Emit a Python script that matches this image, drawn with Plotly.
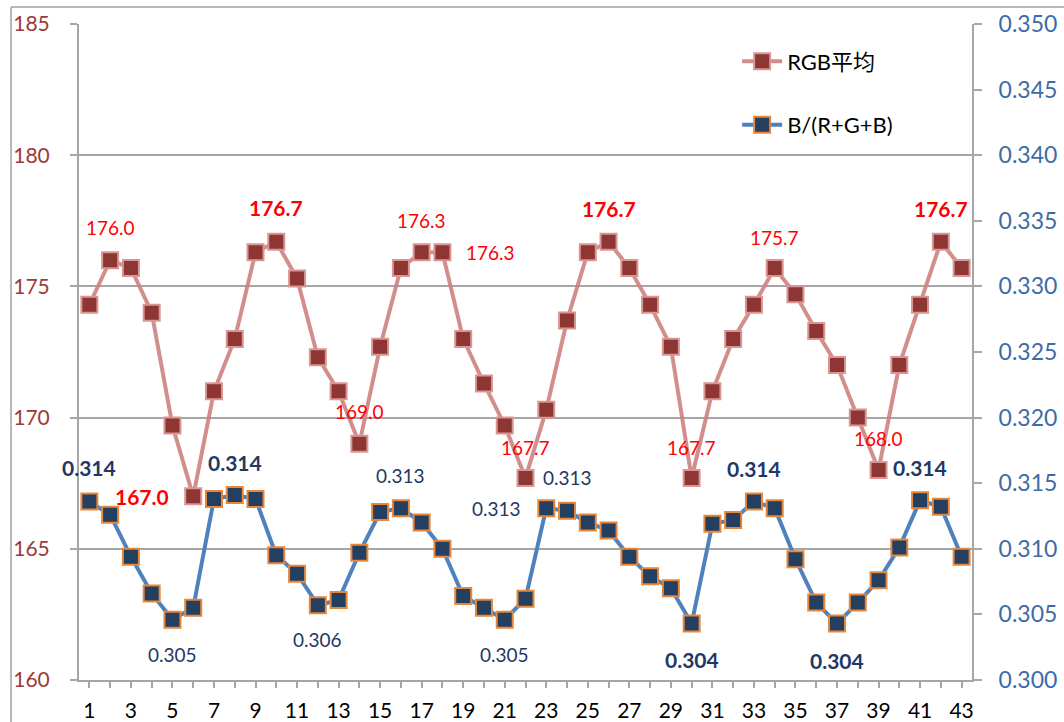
import plotly.graph_objects as go

# ---- data ----
frames = list(range(1, 44))
rgb_avg = [174.3, 176.0, 175.7, 174.0, 169.7, 167.0, 171.0, 173.0, 176.3, 176.7,
           175.3, 172.3, 171.0, 169.0, 172.7, 175.7, 176.3, 176.3, 173.0, 171.3,
           169.7, 167.7, 170.3, 173.7, 176.3, 176.7, 175.7, 174.3, 172.7, 167.7,
           171.0, 173.0, 174.3, 175.7, 174.7, 173.3, 172.0, 170.0, 168.0, 172.0,
           174.3, 176.7, 175.7]
b_ratio = [0.3136, 0.3126, 0.3094, 0.3066, 0.3046, 0.3055, 0.3138, 0.3141, 0.3138, 0.3095,
           0.3081, 0.3057, 0.3061, 0.3097, 0.3128, 0.3131, 0.3120, 0.3100, 0.3064, 0.3055,
           0.3046, 0.3062, 0.3131, 0.3129, 0.3120, 0.3114, 0.3094, 0.3079, 0.3070, 0.3043,
           0.3119, 0.3122, 0.3136, 0.3131, 0.3092, 0.3059, 0.3043, 0.3059, 0.3076, 0.3101,
           0.3137, 0.3132, 0.3094]
series_names = ["RGB平均", "B/(R+G+B)"]
left_ticks = [160, 165, 170, 175, 180, 185]
right_ticks = [0.300, 0.305, 0.310, 0.315, 0.320, 0.325, 0.330, 0.335, 0.340, 0.345, 0.350]
x_tick_labels = [str(v) for v in range(1, 44, 2)]

# labelled points (frame number, bold)
red_labels = [(2, False), (6, True), (10, True), (14, False), (17, False), (18, False),
              (22, False), (26, True), (30, False), (34, False), (39, False), (42, True)]
blue_labels = [(1, True), (5, False), (8, True), (12, False), (16, False), (21, False),
               (23, False), (24, False), (30, True), (33, True), (37, True), (41, True)]

# label offsets in pixels (style)
red_offsets = {2: (0, 33), 6: (-51, 0), 10: (0, 34), 14: (0, 32), 17: (0, 32), 18: (48, 0),
               22: (0, 30), 26: (0, 33), 30: (0, 30), 34: (0, 31), 39: (0, 32), 42: (0, 33)}
blue_offsets = {1: (0, 34), 5: (0, -35), 8: (0, 33), 12: (0, -34), 16: (0, 33), 21: (0, -35),
                23: (-50, 0), 24: (0, 33), 30: (0, -36), 33: (0, 33), 37: (0, -37), 41: (0, 33)}

FONT = "Lato, 'Noto Sans CJK SC', sans-serif"

fig = go.Figure()
fig.add_trace(go.Scatter(
    x=frames, y=rgb_avg, name=series_names[0], mode="lines+markers",
    line=dict(color="rgba(205,130,128,0.9)", width=4),
    marker=dict(symbol="square", size=16, color="#8E3634",
                line=dict(color="#D99694", width=2)),
    legendgroup="a", yaxis="y"))
fig.add_trace(go.Scatter(
    x=frames, y=b_ratio, name=series_names[1], mode="lines+markers",
    line=dict(color="#4F81BD", width=4),
    marker=dict(symbol="square", size=16, color="#243F60",
                line=dict(color="#E8873A", width=2)),
    legendgroup="b", yaxis="y2"))

annotations = []
for idx, bold in red_labels:
    v = rgb_avg[idx - 1]
    dx, dy = red_offsets[idx]
    annotations.append(dict(
        x=idx, y=v, xref="x", yref="y", text=("<b>%.1f</b>" if bold else "%.1f") % v,
        showarrow=False, xshift=dx, yshift=dy,
        font=dict(family=FONT, size=21 if bold else 19, color="#FF0000")))
for idx, bold in blue_labels:
    v = b_ratio[idx - 1]
    dx, dy = blue_offsets[idx]
    annotations.append(dict(
        x=idx, y=v, xref="x", yref="y2", text=("<b>%.3f</b>" if bold else "%.3f") % v,
        showarrow=False, xshift=dx, yshift=dy,
        font=dict(family=FONT, size=21 if bold else 19, color="#1F3864")))

grid_col = "#A6A6A6"
fig.update_layout(
    width=1064, height=722,
    margin=dict(l=79, r=92, t=24, b=42, autoexpand=False),
    paper_bgcolor="white", plot_bgcolor="white",
    font=dict(family=FONT),
    showlegend=True,
    legend=dict(x=0.737, y=0.975, xanchor="left", yanchor="top",
                font=dict(family=FONT, size=22, color="#000000"),
                tracegroupgap=32, bgcolor="rgba(0,0,0,0)", itemwidth=40),
    xaxis=dict(range=[0.5, 43.5], tickmode="array", tickvals=list(range(1, 44, 2)),
               ticktext=x_tick_labels, showgrid=False, zeroline=False,
               showline=True, linecolor=grid_col, linewidth=2,
               ticks="outside", ticklen=6, tickwidth=1.5, tickcolor=grid_col,
               minor=dict(tickvals=list(range(2, 44, 2)), ticks="outside", ticklen=6,
                          tickwidth=1.5, tickcolor=grid_col),
               tickfont=dict(family=FONT, size=21, color="#000000"),
               ticklabelstandoff=5),
    xaxis2=dict(range=[0.5, 43.5], overlaying="x", anchor="y", side="bottom",
                tickmode="array", tickvals=frames, showticklabels=False,
                showgrid=False, zeroline=False, showline=False,
                ticks="inside", ticklen=6, tickwidth=1.5, tickcolor=grid_col),
    yaxis=dict(range=[160, 185], tickmode="array", tickvals=left_ticks,
               showgrid=True, gridcolor=grid_col, gridwidth=1.5, zeroline=False,
               showline=True, linecolor=grid_col, linewidth=2,
               ticks="outside", ticklen=7, tickwidth=1.5, tickcolor=grid_col,
               tickfont=dict(family=FONT, size=21, color="#9B3A38"),
               ticklabelstandoff=16),
    yaxis2=dict(range=[0.300, 0.350], overlaying="y", side="right", anchor="x",
                tickmode="array", tickvals=right_ticks,
                ticktext=["%.3f" % t for t in right_ticks],
                showgrid=False, zeroline=False,
                showline=True, linecolor=grid_col, linewidth=2,
                ticks="outside", ticklen=8, tickwidth=1.5, tickcolor=grid_col,
                tickfont=dict(family=FONT, size=23, color="#3E6BA6"),
                ticklabelstandoff=12),
    annotations=annotations,
    shapes=[
        dict(type="line", xref="paper", yref="paper", x0=-0.0761, x1=-0.0761,
             y0=1.0259, y1=-0.2, line=dict(color="#A0A0A0", width=1.5)),
        dict(type="line", xref="paper", yref="paper", x0=-0.0761, x1=1.2,
             y0=1.0259, y1=1.0259, line=dict(color="#A0A0A0", width=1.5)),
    ],
)

fig.write_html(
    "out.html",
    config={"displayModeBar": False},
    post_script="document.body.style.margin='0';document.body.style.overflow='hidden';"
                "document.documentElement.style.overflow='hidden';",
)
